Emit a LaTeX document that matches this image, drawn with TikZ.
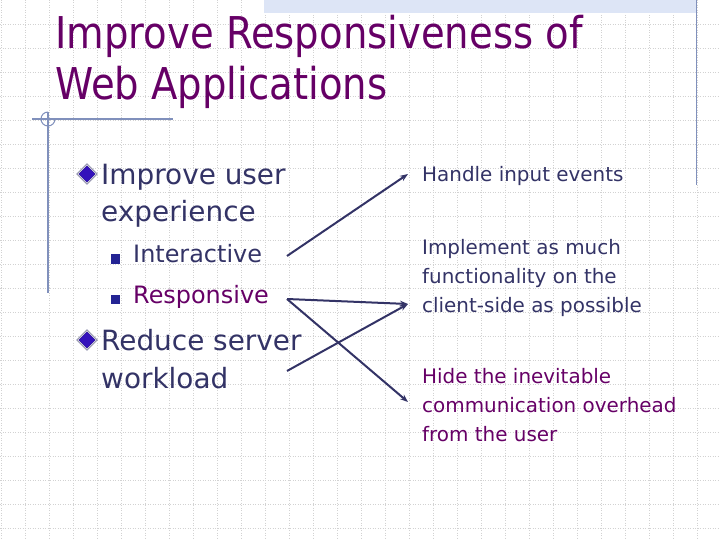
\documentclass[tikz,border=0pt]{standalone}
\usepackage{fontspec}
\setmainfont{DejaVu Sans}
\newfontfamily\titlefont{DejaVu Sans}[FakeStretch=0.88]
\usepackage{tikz}
\usetikzlibrary{positioning,shapes.geometric,arrows.meta}
\usepackage{xcolor}
\definecolor{titlepurple}{HTML}{660066}
\definecolor{bodynavy}{HTML}{333366}
\definecolor{gridgray}{HTML}{D2D2D2}
\definecolor{bandblue}{HTML}{DDE5F6}
\definecolor{rulegray}{HTML}{8090BC}
\definecolor{bulletblue}{HTML}{3311BB}

\begin{document}
\begin{tikzpicture}[
    x=1bp, y=-1bp,
    every node/.style={inner sep=0pt, text=bodynavy},
    titletext/.style={font=\titlefont\fontsize{44}{52}\selectfont, text=titlepurple, align=left, anchor=base west},
    mainitem/.style={font=\fontsize{28}{38}\selectfont, align=left, anchor=base west},
    subitem/.style={font=\fontsize{24}{30}\selectfont, anchor=base west},
    sidetext/.style={font=\fontsize{20}{29}\selectfont, align=left, anchor=base west},
    dmark/.style={diamond, draw=bodynavy, double=white, double distance=0.8bp, fill=bulletblue, minimum size=19bp},
    smark/.style={rectangle, fill=bodynavy!70!blue, minimum size=9bp},
    gridline/.style={gridgray, line width=0.6bp, dash pattern=on 1bp off 1.5bp},
    arrow/.style={-{Stealth[length=8bp,width=6bp]}, line width=2bp, draw=bodynavy}
]
\useasboundingbox (0,0) rectangle (720,540);

% background grid
\foreach \gx in {1,25,...,697}
    \draw[gridline] (\gx,0) -- (\gx,540);
\foreach \gy in {24,48,...,528}
    \draw[gridline] (0,\gy) -- (720,\gy);

% slide frame
\fill[bandblue] (264,0) rectangle (696,13);
\draw[rulegray, line width=1bp] (696,0) -- (696,185);
\draw[rulegray, line width=1.2bp] (32,119) -- (173,119);
\draw[rulegray, line width=1.2bp] (48,112) -- (48,293);
\draw[rulegray, line width=1bp] (48,112) arc[start angle=270, end angle=0, radius=7];

% title (placed at the baseline of its last line)
\node[titletext] (title) at (55,100) {Improve Responsiveness of\\Web Applications};

% left column
\node[dmark] (bullet1) at (87,174) {};
\node[mainitem] (userexp) at (101,222) {Improve user\\experience};
\node[smark] (bullet2) at (115,259) {};
\node[subitem] (interactive) at (133,263) {Interactive};
\node[smark] (bullet3) at (115,299) {};
\node[subitem, text=titlepurple] (responsive) at (133,303) {Responsive};
\node[dmark] (bullet4) at (87,340) {};
\node[mainitem] (reduce) at (101,388) {Reduce server\\workload};

% right column
\node[sidetext] (handle) at (422,182) {Handle input events};
\node[sidetext] (implement) at (422,312) {Implement as much\\functionality on the\\client-side as possible};
\node[sidetext, text=titlepurple] (hide) at (422,441) {Hide the inevitable\\communication overhead\\from the user};

% connector ends
\coordinate (interactive-out) at (287,256);
\coordinate (responsive-out) at (287,299);
\coordinate (reduce-out) at (287,371);
\coordinate (handle-in) at (408,174);
\coordinate (implement-in) at (408,304);
\coordinate (hide-in) at (408,402);

% arrows
\draw[arrow] (interactive-out) -- (handle-in);
\draw[arrow] (responsive-out) -- (implement-in);
\draw[arrow] (responsive-out) -- (hide-in);
\draw[arrow] (reduce-out) -- (implement-in);
\end{tikzpicture}
\end{document}
